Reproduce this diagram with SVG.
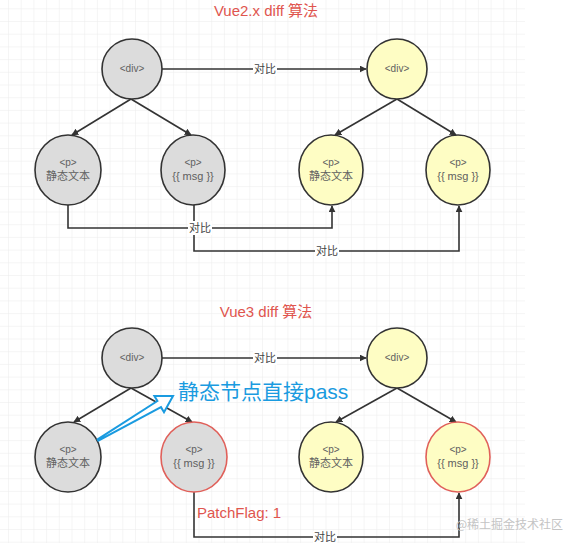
<svg xmlns="http://www.w3.org/2000/svg" width="569" height="543" viewBox="0 0 569 543">
<style>
.title{font-family:"Liberation Sans","Noto Sans CJK SC",sans-serif;font-size:15px;fill:#e0554e;text-anchor:middle}
.nt{font-family:"Liberation Sans","Noto Sans CJK SC",sans-serif;font-size:10px;fill:#606060;text-anchor:middle}
.nt2{font-family:"Liberation Sans","Noto Sans CJK SC",sans-serif;font-size:11px;fill:#606060;text-anchor:middle}
.gray{fill:#dcdcdc;stroke:#333;stroke-width:1.6}
.yellow{fill:#fefdc4;stroke:#333;stroke-width:1.6}
.redg{fill:#dcdcdc;stroke:#e0605a;stroke-width:1.6}
.redy{fill:#fefdc4;stroke:#e0605a;stroke-width:1.6}
.edge{fill:none;stroke:#333;stroke-width:1.6}
.lbl{font-family:"Liberation Sans","Noto Sans CJK SC",sans-serif;font-size:11px;fill:#444;text-anchor:middle}
</style>
<defs>
<pattern id="grid" x="8" y="8.3" width="12.7" height="12.7" patternUnits="userSpaceOnUse">
<path d="M0 0H12.7M0 0V12.7" fill="none" stroke="#ececec" stroke-width="1"/>
</pattern>
<marker id="arr" viewBox="0 0 10 10" refX="9" refY="5" markerWidth="7" markerHeight="7" markerUnits="userSpaceOnUse" orient="auto">
<path d="M0 0L10 5L0 10Z" fill="#333"/>
</marker>
</defs>
<rect width="569" height="543" fill="#ffffff"/>
<rect x="0" y="0" width="525" height="543" fill="url(#grid)"/>

<text class="title" x="266" y="16">Vue2.x diff 算法</text>
<text class="title" x="266" y="317">Vue3 diff 算法</text>

<g id="connectors">
<line class="edge" x1="162" y1="69" x2="366" y2="69" marker-end="url(#arr)"/>
<line class="edge" x1="131" y1="99" x2="72" y2="135" marker-end="url(#arr)"/>
<line class="edge" x1="131" y1="99" x2="191" y2="135" marker-end="url(#arr)"/>
<line class="edge" x1="397" y1="99" x2="335" y2="135" marker-end="url(#arr)"/>
<line class="edge" x1="397" y1="99" x2="456" y2="135" marker-end="url(#arr)"/>
<path class="edge" d="M68 205V228H332V206" marker-end="url(#arr)"/>
<path class="edge" d="M194 205V251H459V206" marker-end="url(#arr)"/>
<rect x="188" y="221" width="24" height="14" fill="#fff"/>
<text class="lbl" x="200" y="232">对比</text>
<rect x="315" y="244" width="24" height="14" fill="#fff"/>
<text class="lbl" x="327" y="255">对比</text>
<rect x="253" y="62" width="24" height="14" fill="#fff"/>
<text class="lbl" x="265" y="73">对比</text>

<line class="edge" x1="162" y1="358" x2="366" y2="358" marker-end="url(#arr)"/>
<line class="edge" x1="131" y1="388" x2="74" y2="422" marker-end="url(#arr)"/>
<line class="edge" x1="131" y1="388" x2="192" y2="422" marker-end="url(#arr)"/>
<line class="edge" x1="397" y1="388" x2="336" y2="422" marker-end="url(#arr)"/>
<line class="edge" x1="397" y1="388" x2="456" y2="422" marker-end="url(#arr)"/>
<rect x="253" y="351" width="24" height="14" fill="#fff"/>
<text class="lbl" x="265" y="362">对比</text>
<path class="edge" d="M194 492V537H459V493" marker-end="url(#arr)"/>
<rect x="313" y="531" width="24" height="12" fill="#fff"/>
<text class="lbl" x="325" y="541">对比</text>
</g>

<g id="v2-div-old"><circle class="gray" cx="132" cy="69" r="30"/><text class="nt" x="132" y="72">&lt;div&gt;</text></g>
<g id="v2-div-new"><circle class="yellow" cx="397" cy="69" r="30"/><text class="nt" x="397" y="72">&lt;div&gt;</text></g>
<g id="v2-p1-old"><ellipse class="gray" cx="68" cy="170" rx="33" ry="35"/><text class="nt" x="68" y="166">&lt;p&gt;</text><text class="nt2" x="68" y="180">静态文本</text></g>
<g id="v2-p2-old"><ellipse class="gray" cx="193" cy="170" rx="32" ry="35"/><text class="nt" x="193" y="166">&lt;p&gt;</text><text class="nt2" x="193" y="180">{{ msg }}</text></g>
<g id="v2-p1-new"><ellipse class="yellow" cx="331" cy="170" rx="32" ry="35"/><text class="nt" x="331" y="166">&lt;p&gt;</text><text class="nt2" x="331" y="180">静态文本</text></g>
<g id="v2-p2-new"><ellipse class="yellow" cx="458" cy="170" rx="32" ry="35"/><text class="nt" x="458" y="166">&lt;p&gt;</text><text class="nt2" x="458" y="180">{{ msg }}</text></g>

<g id="v3-div-old"><circle class="gray" cx="132" cy="358" r="30"/><text class="nt" x="132" y="361">&lt;div&gt;</text></g>
<g id="v3-div-new"><circle class="yellow" cx="397" cy="358" r="30"/><text class="nt" x="397" y="361">&lt;div&gt;</text></g>
<g id="v3-p1-old"><ellipse class="gray" cx="68" cy="457" rx="33" ry="35"/><text class="nt" x="68" y="453">&lt;p&gt;</text><text class="nt2" x="68" y="467">静态文本</text></g>
<g id="v3-p2-old"><ellipse class="redg" cx="194" cy="457" rx="33" ry="35"/><text class="nt" x="194" y="453">&lt;p&gt;</text><text class="nt2" x="194" y="467">{{ msg }}</text></g>
<g id="v3-p1-new"><ellipse class="yellow" cx="331" cy="457" rx="32" ry="35"/><text class="nt" x="331" y="453">&lt;p&gt;</text><text class="nt2" x="331" y="467">静态文本</text></g>
<g id="v3-p2-new"><ellipse class="redy" cx="458" cy="457" rx="32" ry="35"/><text class="nt" x="458" y="453">&lt;p&gt;</text><text class="nt2" x="458" y="467">{{ msg }}</text></g>

<g id="patchflag"><text x="197" y="518" font-family="Liberation Sans, sans-serif" font-size="15" fill="#e0554e">PatchFlag: 1</text></g>

<g id="annotation">
<polygon points="97.6,439.3 157.4,401 154.4,396 173,396 164,412.2 161,407.2 98.4,440.7" fill="#fff" stroke="#1a9be0" stroke-width="2" stroke-linejoin="miter"/>
<text x="178" y="399" font-family="Liberation Sans, Noto Sans CJK SC, sans-serif" font-size="21" fill="#1a9be0">静态节点直接pass</text>
</g>

<text x="563" y="529" text-anchor="end" font-family="Noto Sans CJK SC, sans-serif" font-size="12" fill="#c4c4c4">@稀土掘金技术社区</text>
</svg>
